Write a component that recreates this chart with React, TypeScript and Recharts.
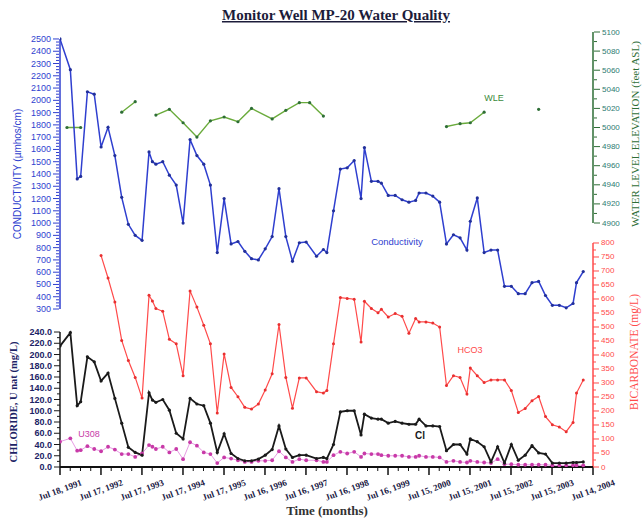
import { LineChart, Line, XAxis, YAxis, ReferenceLine } from 'recharts';

// sample months shared by conductivity, HCO3, Cl and U3O8
const sampleDates = [
  '1991-07', '1991-10', '1991-12', '1992-01', '1992-03', '1992-05', '1992-07', '1992-09', '1992-11',
  '1993-01', '1993-03', '1993-05', '1993-07', '1993-09', '1993-10', '1993-11',
  '1994-01', '1994-03', '1994-05', '1994-07', '1994-09', '1994-11',
  '1995-01', '1995-03', '1995-05', '1995-07', '1995-09', '1995-11',
  '1996-01', '1996-03', '1996-05', '1996-07', '1996-09', '1996-11',
  '1997-01', '1997-03', '1997-05', '1997-07', '1997-10', '1997-12',
  '1998-01', '1998-03', '1998-05', '1998-07', '1998-09', '1998-11', '1998-12',
  '1999-02', '1999-04', '1999-05', '1999-07', '1999-09', '1999-11',
  '2000-01', '2000-03', '2000-04', '2000-06', '2000-08', '2000-10', '2000-12',
  '2001-02', '2001-04', '2001-06', '2001-07', '2001-09', '2001-11',
  '2002-01', '2002-03', '2002-05', '2002-07', '2002-09', '2002-11',
  '2003-01', '2003-03', '2003-05', '2003-07', '2003-09', '2003-11',
  '2004-01', '2004-02', '2004-04',
];

const conductivity = [
  2500, 2250, 1360, 1380, 2070, 2050, 1620, 1780, 1550,
  1210, 990, 900, 860, 1580, 1500, 1480,
  1500, 1390, 1310, 1000, 1680, 1550,
  1480, 1310, 760, 1200, 830, 850,
  770, 710, 700, 790, 890, 1280,
  890, 690, 840, 845, 730, 785,
  760, 1100, 1440, 1450, 1510, 1200, 1615,
  1340, 1340, 1325, 1225, 1225, 1190,
  1170, 1185, 1245, 1245, 1220, 1170, 830,
  905, 880, 780, 1015, 1205, 760,
  780, 780, 485, 485, 425, 425,
  515, 525, 410, 330, 330, 310,
  345, 515, 605,
];

const bicarbonate = [
  null, null, null, null, null, null, 755, 675, 589,
  452, 380, 320, 246, 613, 593, 566,
  556, 456, 440, 326, 629, 571,
  506, 440, 193, 404, 284, 251,
  213, 207, 225, 275, 333, 509,
  320, 210, 318, 318, 269, 264,
  273, 440, 605, 602, 599, 446, 592,
  566, 551, 563, 536, 548, 538,
  478, 530, 518, 518, 514, 500, 291,
  326, 320, 261, 354, 326, 302,
  311, 311, 311, 273, 195, 209,
  237, 252, 180, 151, 143, 126,
  159, 264, 311,
];

const chloride = [
  215, 239, 109, 116, 196, 187, 153, 167, 122,
  78, 35, 26, 21, 132, 119, 115,
  120, 101, 60, 50, 122, 112,
  109, 78, 26, 59, 24, 15,
  11, 11, 14, 21, 31, 73,
  32, 17, 21, 21, 15, 17,
  15, 40, 98, 100, 100, 57, 94,
  87, 85, 85, 78, 81, 78,
  76, 76, 85, 73, 73, 72, 29,
  40, 40, 23, 50, 45, 36,
  9, 36, 7, 40, 12, 21,
  38, 25, 23, 7, 7, 7,
  8, 8, 9,
];

const u3o8 = [
  45, 51, 29, 30, 37, 32, 28, 36, 31,
  23, 23, 18, 24, 39, 36, 32,
  36, 26, 32, 14, 44, 38,
  26, 23, 7, 17, 15, 12,
  9, 9, 11, 11, 12, 28,
  17, 9, 14, 12, 12, 9,
  9, 21, 27, 24, 27, 18, 24,
  23, 23, 21, 20, 20, 20,
  18, 18, 20, 18, 18, 17, 9,
  11, 9, 8, 11, 9, 8,
  7, 14, 5, 5, 4, 4,
  4, 4, 4, 3, 3, 3,
  3, 3, 3,
];

// water level elevation, nulls mark the gaps in the record
const wleDates = [
  '1991-09', '1992-01', '1992-06', '1993-01', '1993-05', '1993-08',
  '1993-11', '1994-03', '1994-07', '1994-11', '1995-03', '1995-07', '1995-11',
  '1996-03', '1996-09', '1997-01', '1997-05', '1997-08', '1997-12', '1999-01',
  '2000-12', '2001-04', '2001-07', '2001-11', '2002-06', '2003-03',
];
const waterLevel = [
  5000, 5000, null, 5016, 5027, null,
  5013, 5019, 5005, 4990, 5007, 5011, 5006,
  5020, 5009, 5018, 5026, 5026, 5012, null,
  5001, 5004, 5005, 5016, null, 5019,
];

const yearLabels = [
  'Jul 18, 1991', 'Jul 17, 1992', 'Jul 17, 1993', 'Jul 17, 1994', 'Jul 17, 1995',
  'Jul 16, 1996', 'Jul 16, 1997', 'Jul 16, 1998', 'Jul 16, 1999', 'Jul 15, 2000',
  'Jul 15, 2001', 'Jul 15, 2002', 'Jul 15, 2003', 'Jul 14, 2004',
];

const condTicks = [300, 400, 500, 600, 700, 800, 900, 1000, 1100, 1200, 1300, 1400, 1500, 1600, 1700, 1800, 1900, 2000, 2100, 2200, 2300, 2400, 2500];
const clTicks = [0, 20, 40, 60, 80, 100, 120, 140, 160, 180, 200, 220, 240];
const wleTicks = [4900, 4920, 4940, 4960, 4980, 5000, 5020, 5040, 5060, 5080, 5100];
const hco3Ticks = [0, 50, 100, 150, 200, 250, 300, 350, 400, 450, 500, 550, 600, 650, 700, 750, 800];

const COND = '#2f3fcf';
const WLE = '#6aab3c';
const WLE_DARK = '#2e6e36';
const HCO3 = '#ff4a4a';
const CL = '#1a1a1a';
const U_LINE = '#e79be3';
const U_DOT = '#c83aa8';
const NAVY = '#1c2366';
const SANS = 'Liberation Sans, Arial, sans-serif';
const SERIF = 'Liberation Serif, Times New Roman, serif';

const decYear = (d: Date) => {
  const y = d.getFullYear();
  const a = new Date(y, 0, 1).getTime();
  const b = new Date(y + 1, 0, 1).getTime();
  return y + (d.getTime() - a) / (b - a);
};
const monthYear = (s: string) => {
  const [y, m] = s.split('-').map(Number);
  return decYear(new Date(y, m - 1, 18));
};

const series = (dates: string[], vals: (number | null)[]) => dates.map((d, i) => ({ t: monthYear(d), v: vals[i] }));

const condData = series(sampleDates, conductivity);
const hco3Data = series(sampleDates, bicarbonate);
const clData = series(sampleDates, chloride);
const uData = series(sampleDates, u3o8);
const wleData = series(wleDates, waterLevel);

const majorX = yearLabels.map((l) => decYear(new Date(l)));
const xTicks: number[] = [];
majorX.forEach((t, i) => {
  xTicks.push(t);
  if (i < majorX.length - 1) {
    const step = (majorX[i + 1] - t) / 4;
    for (let k = 1; k < 4; k++) xTicks.push(t + k * step);
  }
});
const xMin = majorX[0];
const xMax = majorX[majorX.length - 1];

const withMinor = (major: number[], parts: number) => {
  const out: number[] = [];
  major.forEach((v, i) => {
    out.push(v);
    if (i < major.length - 1) {
      const step = (major[i + 1] - v) / parts;
      for (let k = 1; k < parts; k++) out.push(v + k * step);
    }
  });
  return out;
};

// domains stretched so each axis only fills its own band of the plot
const condDomain = [-987, 2573];
const clDomain = [0, 777];
const wleDomain = [4644.5, 5102.1];
const hco3Domain = [0, 1560.7];

const findMajor = (v: number) => majorX.findIndex((t) => Math.abs(t - v) < 1e-6);

const renderXTick = (props: any) => {
  const { x, y, payload } = props;
  const idx = findMajor(payload.value);
  const major = idx >= 0;
  const lx = x;
  const ly = y + 23;
  return (
    <g key={`xt-${payload.value}`}>
      <line x1={x} x2={x} y1={y} y2={y + (major ? 8 : 4)} stroke="#111" strokeWidth={major ? 1.5 : 1} />
      {major && (
        <text x={lx} y={ly} transform={`rotate(-20 ${lx} ${ly})`} textAnchor="middle" dominantBaseline="central"
          fontFamily={SERIF} fontWeight="bold" fontSize={9} fill="#1a1a44">{yearLabels[idx]}</text>
      )}
    </g>
  );
};

const makeYTick = (side: 'left' | 'right', labels: number[], fmt: (v: number) => string, color: string, lineColor: string, font: any) =>
  (props: any) => {
    const { x, y, payload } = props;
    const major = labels.includes(payload.value);
    const dir = side === 'left' ? -1 : 1;
    const len = major ? 6 : 3;
    return (
      <g key={`yt-${side}-${payload.value}`}>
        <line x1={x} x2={x + dir * len} y1={y} y2={y} stroke={lineColor} strokeWidth={1} />
        {major && (
          <text x={x + dir * 8} y={y} textAnchor={side === 'left' ? 'end' : 'start'} dominantBaseline="central" fill={color} {...font}>
            {fmt(payload.value)}
          </text>
        )}
      </g>
    );
  };

const condTick = makeYTick('left', condTicks, (v) => String(v), COND, COND, { fontFamily: SANS, fontSize: 9 });
const clTick = makeYTick('left', clTicks, (v) => v.toFixed(1), NAVY, CL, { fontFamily: SANS, fontSize: 9, fontWeight: 'bold' });
const wleTick = makeYTick('right', wleTicks, (v) => String(v), '#2d7b72', WLE_DARK, { fontFamily: SANS, fontSize: 8 });
const hco3Tick = makeYTick('right', hco3Ticks, (v) => String(v), HCO3, HCO3, { fontFamily: SANS, fontSize: 8 });

export default function App() {
  return (
    <div style={{ position: 'absolute', left: 0, top: 0, width: 644, height: 519, background: '#fff' }}>
      <LineChart width={644} height={519} margin={{ top: 30, right: 49, bottom: 51, left: 58 }}>
        <XAxis type="number" dataKey="t" domain={[xMin, xMax]} allowDataOverflow ticks={xTicks} interval={0}
          tick={renderXTick} tickLine={false} tickSize={0} tickMargin={0} height={1}
          axisLine={{ stroke: '#111', strokeWidth: 2 }} />
        <YAxis yAxisId="cond" orientation="left" width={1} domain={condDomain} allowDataOverflow
          ticks={withMinor(condTicks, 4)} interval={0} tick={condTick} tickLine={false} axisLine={false} tickSize={0} tickMargin={0} />
        <YAxis yAxisId="cl" orientation="left" width={1} domain={clDomain} allowDataOverflow
          ticks={withMinor(clTicks, 2)} interval={0} tick={clTick} tickLine={false} axisLine={false} tickSize={0} tickMargin={0} />
        <YAxis yAxisId="wle" orientation="right" width={1} domain={wleDomain} allowDataOverflow
          ticks={withMinor(wleTicks, 2)} interval={0} tick={wleTick} tickLine={false} axisLine={false} tickSize={0} tickMargin={0} />
        <YAxis yAxisId="hco3" orientation="right" width={1} domain={hco3Domain} allowDataOverflow
          ticks={withMinor(hco3Ticks, 2)} interval={0} tick={hco3Tick} tickLine={false} axisLine={false} tickSize={0} tickMargin={0} />

        <ReferenceLine yAxisId="cond" segment={[{ x: xMin, y: 300 }, { x: xMin, y: 2500 }]} stroke={COND} strokeWidth={1.5} />
        <ReferenceLine yAxisId="cl" segment={[{ x: xMin, y: 0 }, { x: xMin, y: 240 }]} stroke={CL} strokeWidth={1.5} />
        <ReferenceLine yAxisId="wle" segment={[{ x: xMax, y: 4900 }, { x: xMax, y: 5100 }]} stroke={WLE_DARK} strokeWidth={1.5} />
        <ReferenceLine yAxisId="hco3" segment={[{ x: xMax, y: 0 }, { x: xMax, y: 800 }]} stroke={HCO3} strokeWidth={1.5} />

        <Line yAxisId="wle" data={wleData} dataKey="v" stroke={WLE} strokeWidth={1.4}
          dot={{ r: 1.6, fill: WLE_DARK, stroke: WLE_DARK, strokeWidth: 0 }} isAnimationActive={false} />
        <Line yAxisId="cond" data={condData} dataKey="v" stroke={COND} strokeWidth={1.5}
          dot={{ r: 1.6, fill: '#22309a', stroke: '#22309a', strokeWidth: 0 }} isAnimationActive={false} />
        <Line yAxisId="hco3" data={hco3Data} dataKey="v" stroke={HCO3} strokeWidth={1.2}
          dot={{ r: 1.5, fill: '#e83030', stroke: '#e83030', strokeWidth: 0 }} isAnimationActive={false} />
        <Line yAxisId="cl" data={uData} dataKey="v" stroke={U_LINE} strokeWidth={1}
          dot={{ r: 1.9, fill: U_DOT, stroke: U_DOT, strokeWidth: 0 }} isAnimationActive={false} />
        <Line yAxisId="cl" data={clData} dataKey="v" stroke={CL} strokeWidth={1.8}
          dot={{ r: 1.6, fill: CL, stroke: CL, strokeWidth: 0 }} isAnimationActive={false} />
      </LineChart>

      <svg width={644} height={519} style={{ position: 'absolute', left: 0, top: 0, pointerEvents: 'none' }}>
        <text x={336} y={20} textAnchor="middle" fontFamily={SERIF} fontWeight="bold" fontSize={15} fill="#1c1c3a"
          textDecoration="underline">Monitor Well MP-20 Water Quality</text>
        <text x={17} y={174} transform="rotate(-90 17 174)" textAnchor="middle" dominantBaseline="central"
          fontFamily={SANS} fontSize={10} fill={COND}>CONDUCTIVITY (µmhos/cm)</text>
        <text x={13} y={402} transform="rotate(-90 13 402)" textAnchor="middle" dominantBaseline="central"
          fontFamily={SERIF} fontWeight="bold" fontSize={10.5} fill={NAVY}>CHLORIDE, U nat  (mg/L)</text>
        <text x={635} y={134} transform="rotate(-90 635 134)" textAnchor="middle" dominantBaseline="central"
          fontFamily={SERIF} fontSize={11} fill={WLE_DARK}>WATER LEVEL ELEVATION (feet ASL)</text>
        <text x={634} y={352} transform="rotate(-90 634 352)" textAnchor="middle" dominantBaseline="central"
          fontFamily={SERIF} fontSize={11.5} fill={HCO3}>BICARBONATE (mg/L)</text>
        <text x={327} y={515} textAnchor="middle" fontFamily={SERIF} fontWeight="bold" fontSize={13} fill="#333">Time (months)</text>

        <text x={494} y={101} textAnchor="middle" fontFamily={SANS} fontSize={9} fill="#3b8a3b">WLE</text>
        <text x={397} y={245} textAnchor="middle" fontFamily={SANS} fontSize={9.5} fill={COND}>Conductivity</text>
        <text x={470} y={353} textAnchor="middle" fontFamily={SANS} fontSize={9} fill={HCO3}>HCO3</text>
        <text x={420} y={439} textAnchor="middle" fontFamily={SANS} fontSize={10} fontWeight="bold" fill={CL}>Cl</text>
        <text x={89} y={437} textAnchor="middle" fontFamily={SANS} fontSize={9} fill={U_DOT}>U308</text>
      </svg>
    </div>
  );
}
